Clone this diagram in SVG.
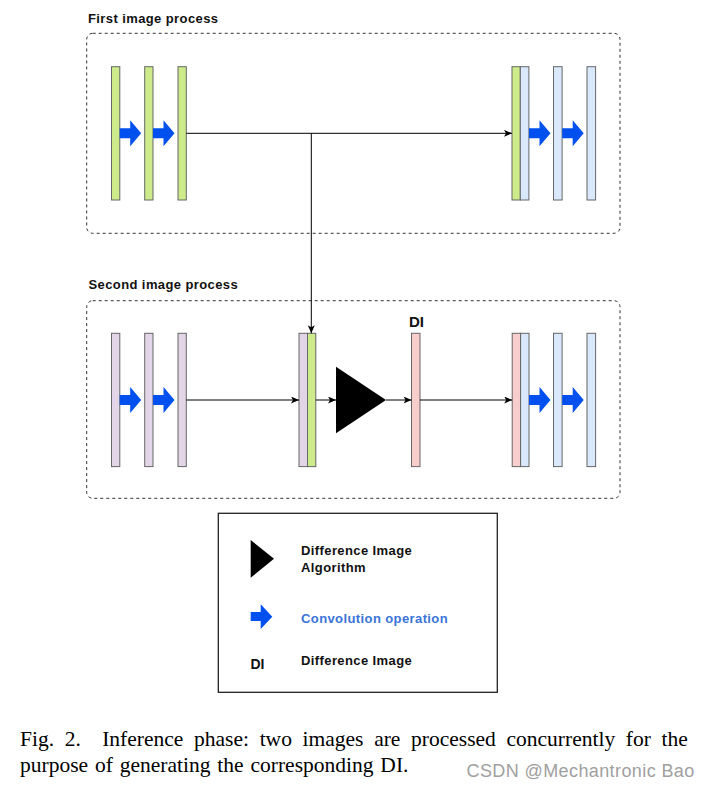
<svg xmlns="http://www.w3.org/2000/svg" width="710" height="787" viewBox="0 0 710 787">
<style>
.lbl{font-family:"Liberation Sans",Arial,sans-serif;font-size:13px;font-weight:bold;fill:#111;letter-spacing:0.4px}
.di{font-family:"Liberation Sans",Arial,sans-serif;font-size:15px;font-weight:bold;fill:#111}
.grp{fill:none;stroke:#333;stroke-width:1;stroke-dasharray:3,3}
.bar{stroke:#666;stroke-width:1}
.g{fill:#cdeb8b}.p{fill:#e1d5e7}.b{fill:#dae8fc}.r{fill:#f8cecc}
.conv{fill:#0050ef}
.cn{stroke:#000;stroke-width:1;fill:none;marker-end:url(#ah)}
.cap{font-family:"Liberation Serif","Times New Roman",serif;font-size:21.5px;fill:#000}
</style>
<defs>
<marker id="ah" markerWidth="9" markerHeight="8" refX="8" refY="3.5" orient="auto" markerUnits="userSpaceOnUse">
<path d="M0,0 L8,3.5 L0,7 L2,3.5 z" fill="#000"/>
</marker>
<path id="arr" d="M0,8 L10.5,8 L10.5,0 L21.5,13 L10.5,26 L10.5,18 L0,18 z"/>
</defs>
<rect width="710" height="787" fill="#fff"/>

<g id="group1">
<text class="lbl" x="88" y="22.5">First image process</text>
<rect class="grp" x="86.7" y="33.3" width="533.3" height="200" rx="6"/>
</g>
<g id="group2">
<text class="lbl" x="88.5" y="289">Second image process</text>
<rect class="grp" x="86.7" y="300.7" width="533.3" height="197.6" rx="6"/>
</g>

<g id="img1-bars">
<rect class="bar g" x="111.5" y="66.7" width="8.3" height="133.3"/>
<rect class="bar g" x="144.7" y="66.7" width="8.3" height="133.3"/>
<rect class="bar g" x="178" y="66.7" width="8.3" height="133.3"/>
<use href="#arr" class="conv" x="119.7" y="120.3"/>
<use href="#arr" class="conv" x="153" y="120.3"/>
</g>
<g id="img1-out">
<rect class="bar g" x="512" y="66.7" width="8.3" height="133.3"/>
<rect class="bar b" x="520.3" y="66.7" width="8.6" height="133.3"/>
<rect class="bar b" x="553.5" y="66.7" width="8.6" height="133.3"/>
<rect class="bar b" x="587" y="66.7" width="8.6" height="133.3"/>
<use href="#arr" class="conv" x="529" y="120.3"/>
<use href="#arr" class="conv" x="562.2" y="120.3"/>
</g>

<g id="img2-bars">
<rect class="bar p" x="111.5" y="333.3" width="8.3" height="133.3"/>
<rect class="bar p" x="144.7" y="333.3" width="8.3" height="133.3"/>
<rect class="bar p" x="178" y="333.3" width="8.3" height="133.3"/>
<use href="#arr" class="conv" x="119.7" y="387"/>
<use href="#arr" class="conv" x="153" y="387"/>
</g>
<g id="concat">
<rect class="bar p" x="299" y="333.3" width="8.5" height="133.3"/>
<rect class="bar g" x="307.5" y="333.3" width="8.3" height="133.3"/>
</g>
<g id="dia">
<path d="M336,366.7 L386,400 L336,433.3 z" fill="#000"/>
</g>
<g id="di-node">
<text class="di" x="409" y="326.5">DI</text>
<rect class="bar r" x="411.5" y="333.3" width="8.5" height="133.3"/>
</g>
<g id="img2-out">
<rect class="bar r" x="512.2" y="333.3" width="8.4" height="133.3"/>
<rect class="bar b" x="520.6" y="333.3" width="8.4" height="133.3"/>
<rect class="bar b" x="553.5" y="333.3" width="8.6" height="133.3"/>
<rect class="bar b" x="587" y="333.3" width="8.6" height="133.3"/>
<use href="#arr" class="conv" x="529" y="387"/>
<use href="#arr" class="conv" x="562.2" y="387"/>
</g>

<g id="connectors">
<line class="cn" x1="186.3" y1="133.3" x2="512" y2="133.3"/>
<line class="cn" x1="311.3" y1="133.3" x2="311.3" y2="333.3"/>
<line class="cn" x1="186.3" y1="400" x2="299" y2="400"/>
<line class="cn" x1="315.8" y1="400" x2="336" y2="400"/>
<line class="cn" x1="386" y1="400" x2="411.5" y2="400"/>
<line class="cn" x1="420" y1="400" x2="512.2" y2="400"/>
</g>

<g id="legend">
<rect x="218.3" y="513.3" width="279" height="179" fill="none" stroke="#222" stroke-width="1.3"/>
<path d="M250.7,540 L274,558.8 L250.7,577.7 z" fill="#000"/>
<text class="lbl" x="301" y="555">Difference Image</text>
<text class="lbl" x="301" y="571.5">Algorithm</text>
<path class="conv" d="M250.7,612 L260.7,612 L260.7,604.3 L272.3,616.7 L260.7,629 L260.7,621 L250.7,621 z"/>
<text class="lbl" x="301" y="623" style="fill:#3a74d8">Convolution operation</text>
<text class="di" x="250.5" y="668.5" style="font-size:14px">DI</text>
<text class="lbl" x="301" y="665">Difference Image</text>
</g>

<g id="caption">
<text class="cap" x="20" y="745.7" word-spacing="5.3">Fig. 2.&#160; Inference phase: two images are processed concurrently for the</text>
<text class="cap" x="20" y="771.7" word-spacing="1.5">purpose of generating the corresponding DI.</text>
<text x="466.5" y="776.5" font-family="'Liberation Sans',Arial,sans-serif" font-size="18" fill="#a0a0a0" letter-spacing="0.4">CSDN @Mechantronic Bao</text>
</g>
</svg>
